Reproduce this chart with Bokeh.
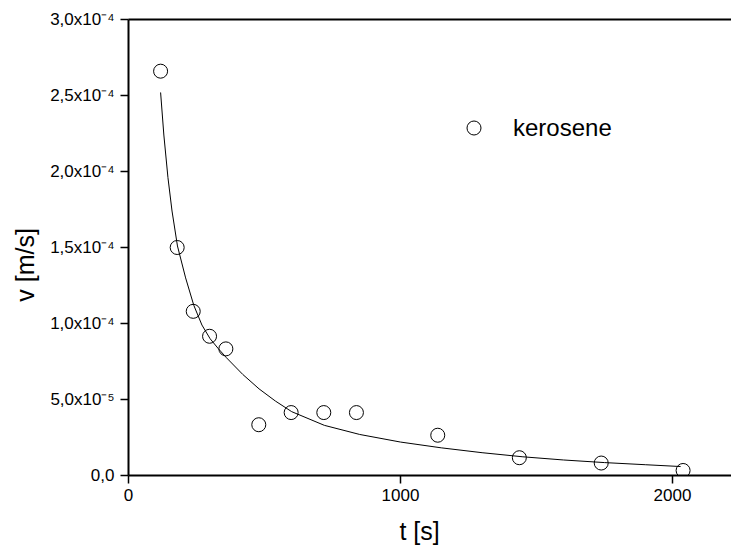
from bokeh.plotting import figure
from bokeh.models import (Range1d, LinearAxis, FixedTicker, Legend, LegendItem)
from bokeh.embed import file_html
from bokeh.resources import INLINE

# measured data (t in s, v in m/s)
t_data = [118, 179, 238, 298, 358, 479, 598, 718, 838, 1137, 1437, 1738, 2039]
v_data = [2.66e-4, 1.50e-4, 1.08e-4, 0.916e-4, 0.833e-4, 0.334e-4, 0.414e-4,
          0.414e-4, 0.414e-4, 0.265e-4, 0.117e-4, 0.082e-4, 0.033e-4]

# fitted curve
fit_t = [118, 130, 145, 160, 180, 210, 240, 270, 300, 330, 360, 420, 480, 540, 600,
         720, 850, 1000, 1150, 1300, 1450, 1600, 1750, 1900, 2030]
fit_v = [2.52e-4, 2.24e-4, 1.96e-4, 1.74e-4, 1.51e-4, 1.30e-4, 1.12e-4, 0.99e-4, 0.90e-4,
         0.835e-4, 0.775e-4, 0.665e-4, 0.57e-4, 0.49e-4, 0.42e-4, 0.33e-4, 0.27e-4,
         0.22e-4, 0.182e-4, 0.150e-4, 0.123e-4, 0.102e-4, 0.085e-4, 0.071e-4, 0.059e-4]

x_ticks = [0, 1000, 2000]
y_ticks = [0.0, 0.5e-4, 1.0e-4, 1.5e-4, 2.0e-4, 2.5e-4, 3.0e-4]
y_tick_labels = ["0,0", "5,0x10\u207b\u2075", "1,0x10\u207b\u2074", "1,5x10\u207b\u2074",
                 "2,0x10\u207b\u2074", "2,5x10\u207b\u2074", "3,0x10\u207b\u2074"]

FONT = "Liberation Sans"
NBSP = "\u00a0"

p = figure(width=731, height=554, x_range=Range1d(0, 2217), y_range=Range1d(0, 3e-4),
           output_backend="svg", toolbar_location=None,
           min_border_left=128, min_border_right=0, min_border_top=19, min_border_bottom=79)
p.outline_line_color = None
p.grid.visible = False
p.background_fill_color = "white"

xa = p.xaxis[0]
xa.ticker = FixedTicker(ticks=x_ticks)
xa.axis_line_width = 2
xa.major_tick_line_width = 1.5
xa.major_tick_out = 8
xa.major_tick_in = 0
xa.minor_tick_line_color = None
xa.major_label_text_font = FONT
xa.major_label_text_font_size = "17px"
xa.major_label_text_color = "black"
xa.major_label_standoff = 5
xa.axis_label = "t [s]" + NBSP * 3
xa.axis_label_text_font = FONT
xa.axis_label_text_font_size = "25px"
xa.axis_label_text_font_style = "normal"
xa.axis_label_text_color = "black"
xa.axis_label_standoff = 13

ya = p.yaxis[0]
ya.ticker = FixedTicker(ticks=y_ticks)
ya.axis_line_width = 2
ya.major_tick_line_width = 1.5
ya.major_tick_out = 8
ya.major_tick_in = 0
ya.minor_tick_line_color = None
ya.major_label_overrides = dict(zip(y_ticks, y_tick_labels))
ya.major_label_text_font = FONT
ya.major_label_text_font_size = "17px"
ya.major_label_text_color = "black"
ya.major_label_standoff = 6
ya.axis_label = "v [m/s]" + NBSP * 5
ya.axis_label_text_font = FONT
ya.axis_label_text_font_size = "25px"
ya.axis_label_text_font_style = "normal"
ya.axis_label_text_color = "black"
ya.axis_label_standoff = 8

top = LinearAxis(ticker=FixedTicker(ticks=[]), axis_line_width=2,
                 major_tick_out=0, major_tick_in=0, minor_tick_out=0, minor_tick_in=0,
                 major_label_text_font_size="0px")
p.add_layout(top, "above")

p.line(fit_t, fit_v, line_color="black", line_width=1)
pts = p.scatter(t_data, v_data, marker="circle", size=14, fill_color=None,
                line_color="black", line_width=1)

legend = Legend(items=[LegendItem(label="kerosene", renderers=[pts])],
                location=(328, 330), glyph_width=35, glyph_height=35, label_height=35,
                label_standoff=22, padding=0, margin=0, spacing=0,
                border_line_color=None, background_fill_alpha=0,
                label_text_font=FONT, label_text_font_size="24px", label_text_color="black")
p.add_layout(legend)

open("out.html", "w").write(file_html(p, INLINE))
